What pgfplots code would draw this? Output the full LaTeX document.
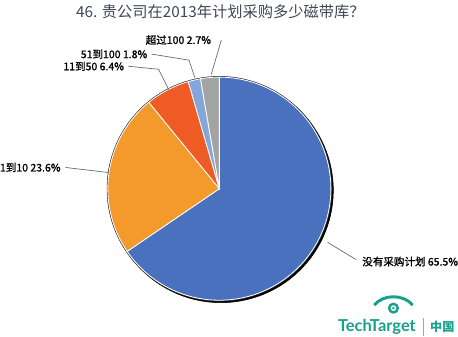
\documentclass[border=0pt]{standalone}
\usepackage{pgfplots}
\pgfplotsset{compat=1.18}
\usepackage{fontspec}
\setmainfont{Noto Sans CJK SC}
\newfontfamily\labfont[FakeBold=1.2]{Noto Sans CJK SC}
\newfontfamily\logofont{Lato}
\definecolor{cBlue}{HTML}{4A71BD}
\definecolor{cOrange}{HTML}{F4992B}
\definecolor{cRed}{HTML}{EE5B24}
\definecolor{cLBlue}{HTML}{84A6DB}
\definecolor{cGray}{HTML}{A3A3A3}
\definecolor{cTitle}{HTML}{3E4756}
\definecolor{cTeal}{HTML}{17A08A}
\begin{document}
\begin{tikzpicture}
% values (percent), clockwise from 12 o'clock
\pgfmathsetmacro\vA{65.5}
\pgfmathsetmacro\vB{23.6}
\pgfmathsetmacro\vC{6.4}
\pgfmathsetmacro\vD{1.8}
\pgfmathsetmacro\vE{2.7}
\pgfmathsetmacro\aA{0}
\pgfmathsetmacro\aB{\aA+3.6*\vA}
\pgfmathsetmacro\aC{\aB+3.6*\vB}
\pgfmathsetmacro\aD{\aC+3.6*\vC}
\pgfmathsetmacro\aE{\aD+3.6*\vD}
\pgfmathsetmacro\aF{\aE+3.6*\vE}
\def\cx{220}\def\cy{190}\def\r{111}
\begin{axis}[width=343.5pt, height=257.25pt, scale only axis,
  xmin=0, xmax=458, ymin=0, ymax=343, y dir=reverse,
  axis lines=none, clip=false]
% shadow
\addplot[fill=black, draw=black, domain=0:360, samples=120, variable=\t]
  ({\cx+1.6+\r*sin(\t)}, {\cy+1.6-\r*cos(\t)}) -- cycle;
\addplot[fill=black!80, draw=black!80, domain=0:360, samples=120, variable=\t]
  ({\cx+\r*sin(\t)+0.0}, {\cy-\r*cos(\t)}) -- cycle;
% wedges
\addplot[fill=cBlue, draw=white, line width=0.6pt, domain=\aA:\aB, samples=100, variable=\t]
  ({\cx+(\r-0.8)*sin(\t)}, {\cy-(\r-0.8)*cos(\t)}) -- (axis cs:\cx,\cy) -- cycle;
\addplot[fill=cOrange, draw=white, line width=0.6pt, domain=\aB:\aC, samples=50, variable=\t]
  ({\cx+(\r-0.8)*sin(\t)}, {\cy-(\r-0.8)*cos(\t)}) -- (axis cs:\cx,\cy) -- cycle;
\addplot[fill=cRed, draw=white, line width=0.6pt, domain=\aC:\aD, samples=20, variable=\t]
  ({\cx+(\r-0.8)*sin(\t)}, {\cy-(\r-0.8)*cos(\t)}) -- (axis cs:\cx,\cy) -- cycle;
\addplot[fill=cLBlue, draw=white, line width=0.6pt, domain=\aD:\aE, samples=10, variable=\t]
  ({\cx+(\r-0.8)*sin(\t)}, {\cy-(\r-0.8)*cos(\t)}) -- (axis cs:\cx,\cy) -- cycle;
\addplot[fill=cGray, draw=white, line width=0.6pt, domain=\aE:\aF, samples=10, variable=\t]
  ({\cx+(\r-0.8)*sin(\t)}, {\cy-(\r-0.8)*cos(\t)}) -- (axis cs:\cx,\cy) -- cycle;
% title
\node[text=cTitle, font=\fontsize{11.3}{13}\selectfont] at (axis cs:221,15) {46. 贵公司在2013年计划采购多少磁带库？};
% leader lines
\draw[black!60, line width=0.5pt] (axis cs:222,43) -- (axis cs:212,77);
\draw[black!60, line width=0.5pt] (axis cs:153,57) -- (axis cs:190,63) -- (axis cs:196,81);
\draw[black!60, line width=0.5pt] (axis cs:130,69) -- (axis cs:160,72) -- (axis cs:170,92);
\draw[black!60, line width=0.5pt] (axis cs:68,169) -- (axis cs:110,174);
\draw[black!60, line width=0.5pt] (axis cs:327,243) -- (axis cs:355,260);
% labels
\node[anchor=east, inner sep=0pt, font=\labfont\fontsize{7.8}{9}\selectfont] at (axis cs:212,43) {超过100 2.7\%};
\node[anchor=east, inner sep=0pt, font=\labfont\fontsize{7.8}{9}\selectfont] at (axis cs:149,57) {51到100 1.8\%};
\node[anchor=east, inner sep=0pt, font=\labfont\fontsize{7.8}{9}\selectfont] at (axis cs:126,69) {11到50 6.4\%};
\node[anchor=west, inner sep=0pt, font=\labfont\fontsize{7.8}{9}\selectfont] at (axis cs:3,169) {1到10 23.6\%};
\node[anchor=west, inner sep=0pt, font=\labfont\fontsize{7.8}{9}\selectfont] at (axis cs:361,262) {没有采购计划 65.5\%};
% logo
\draw[cTeal, line width=2.2pt] (axis cs:373,305) .. controls (axis cs:382,294) and (axis cs:402,294) .. (axis cs:411,305);
\draw[cTeal, line width=1.8pt] (axis cs:392,308) circle[radius=3.2pt];
\fill[cTeal] (axis cs:392,308) circle[radius=1pt];
\node[anchor=west, inner sep=0pt, text=cTeal, font=\logofont\bfseries\fontsize{12.2}{14}\selectfont] at (axis cs:337,327) {TechTarget};
\draw[black!35, line width=0.5pt] (axis cs:422,318) -- (axis cs:422,336);
\node[anchor=west, inner sep=0pt, text=cTeal, font=\bfseries\fontsize{9}{11}\selectfont] at (axis cs:428,327) {中国};
\end{axis}
\end{tikzpicture}
\end{document}
